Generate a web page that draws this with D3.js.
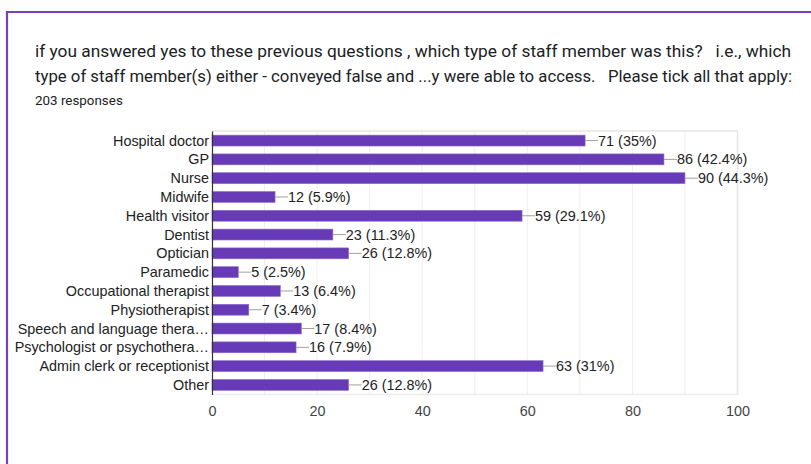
<!DOCTYPE html>
<html>
<head>
<meta charset="utf-8">
<script src="https://cdn.jsdelivr.net/npm/d3@7"></script>
<style>
  html, body { margin: 0; padding: 0; background: #fff; }
  svg { display: block; }
</style>
</head>
<body>
<svg id="chart" width="811" height="464"></svg>
<script>
// Survey answers: staff type and number of respondents
const categories = [
  "Hospital doctor", "GP", "Nurse", "Midwife", "Health visitor", "Dentist",
  "Optician", "Paramedic", "Occupational therapist", "Physiotherapist",
  "Speech and language thera…", "Psychologist or psychothera…",
  "Admin clerk or receptionist", "Other"
];
const counts = [71, 86, 90, 12, 59, 23, 26, 5, 13, 7, 17, 16, 63, 26];
const percents = ["35%", "42.4%", "44.3%", "5.9%", "29.1%", "11.3%", "12.8%",
  "2.5%", "6.4%", "3.4%", "8.4%", "7.9%", "31%", "12.8%"];
const xTicks = [0, 20, 40, 60, 80, 100];
const gridValues = [10, 20, 30, 40, 50, 60, 70, 80, 90, 100];
const titleLines = [
  "if you answered yes to these previous questions , which type of staff member was this?   i.e., which",
  "type of staff member(s) either - conveyed false and ...y were able to access.   Please tick all that apply:"
];
const titleWidths = [756, 757];
const responsesText = "203 responses";

const svg = d3.select("#chart");
const chartFont = "Arial, 'Liberation Sans', sans-serif";

// Card outline
svg.append("path")
  .attr("d", "M7,464 V12 H811")
  .attr("fill", "none")
  .attr("stroke", "#7b3fb8")
  .attr("stroke-width", 2.2);

// Heading, each line fitted to the card width
svg.selectAll("text.title")
  .data(titleLines)
  .join("text")
  .attr("class", "title")
  .attr("x", 35)
  .attr("y", (d, i) => 57 + i * 25)
  .attr("font-family", "Roboto, sans-serif")
  .attr("font-size", 16.6)
  .attr("fill", "#202124")
  .attr("textLength", (d, i) => titleWidths[i])
  .attr("lengthAdjust", "spacingAndGlyphs")
  .style("white-space", "pre")
  .text(d => d);

svg.append("text")
  .attr("x", 35)
  .attr("y", 105)
  .attr("font-family", "Roboto, sans-serif")
  .attr("font-size", 13.4)
  .attr("fill", "#202124")
  .text(responsesText);

// Plot area
const plot = { left: 212, right: 737.5, top: 131, bottom: 394.5 };

const x = d3.scaleLinear().domain([0, 100]).range([plot.left, plot.right]);
const y = d3.scaleBand().domain(categories).range([plot.top, plot.bottom])
  .paddingInner(0.42).paddingOuter(0.22);

const g = svg.append("g");

// Vertical grid lines
g.selectAll("line.grid")
  .data(gridValues)
  .join("line")
  .attr("class", "grid")
  .attr("x1", d => x(d)).attr("x2", d => x(d))
  .attr("y1", plot.top).attr("y2", plot.bottom)
  .attr("stroke", d => d === 100 ? "#e6e6e6" : "#efefef")
  .attr("stroke-width", d => d === 100 ? 1.5 : 1);

// Top and bottom frame
g.append("line")
  .attr("x1", plot.left).attr("x2", plot.right)
  .attr("y1", plot.top).attr("y2", plot.top)
  .attr("stroke", "#e6e6e6").attr("stroke-width", 1.5);
g.append("line")
  .attr("x1", plot.left).attr("x2", plot.right)
  .attr("y1", plot.bottom).attr("y2", plot.bottom)
  .attr("stroke", "#ececec").attr("stroke-width", 1.5);

// Bars
g.selectAll("rect.bar")
  .data(categories)
  .join("rect")
  .attr("class", "bar")
  .attr("x", x(0))
  .attr("y", d => y(d))
  .attr("width", (d, i) => x(counts[i]) - x(0))
  .attr("height", y.bandwidth())
  .attr("fill", "#673ab7")
  .attr("stroke", "#8e6cc9")
  .attr("stroke-width", 0.6);

// Leader lines and value labels
g.selectAll("line.leader")
  .data(categories)
  .join("line")
  .attr("class", "leader")
  .attr("x1", (d, i) => x(counts[i]))
  .attr("x2", (d, i) => x(counts[i]) + 13)
  .attr("y1", d => y(d) + y.bandwidth() / 2)
  .attr("y2", d => y(d) + y.bandwidth() / 2)
  .attr("stroke", "#a0a0a0")
  .attr("stroke-width", 1);

g.selectAll("text.value")
  .data(categories)
  .join("text")
  .attr("class", "value")
  .attr("x", (d, i) => x(counts[i]) + 13)
  .attr("y", d => y(d) + y.bandwidth() / 2)
  .attr("dy", "0.35em")
  .attr("font-family", chartFont)
  .attr("font-size", 14.4)
  .attr("fill", "#222")
  .text((d, i) => `${counts[i]} (${percents[i]})`);

// Category axis
const yAxis = g.append("g")
  .attr("transform", `translate(${plot.left},0)`)
  .call(d3.axisLeft(y).tickSize(0).tickPadding(3));
yAxis.select(".domain").attr("stroke", "#333").attr("stroke-width", 1.2);
yAxis.selectAll("text")
  .attr("dy", "0.35em")
  .attr("font-family", chartFont)
  .attr("font-size", 14.4)
  .attr("fill", "#222");

// Value axis
const xAxis = g.append("g")
  .attr("transform", `translate(0,${plot.bottom})`)
  .call(d3.axisBottom(x).tickValues(xTicks).tickSize(0).tickPadding(11));
xAxis.select(".domain").remove();
xAxis.selectAll("text")
  .attr("font-family", chartFont)
  .attr("font-size", 14.4)
  .attr("fill", "#444");
</script>
</body>
</html>
